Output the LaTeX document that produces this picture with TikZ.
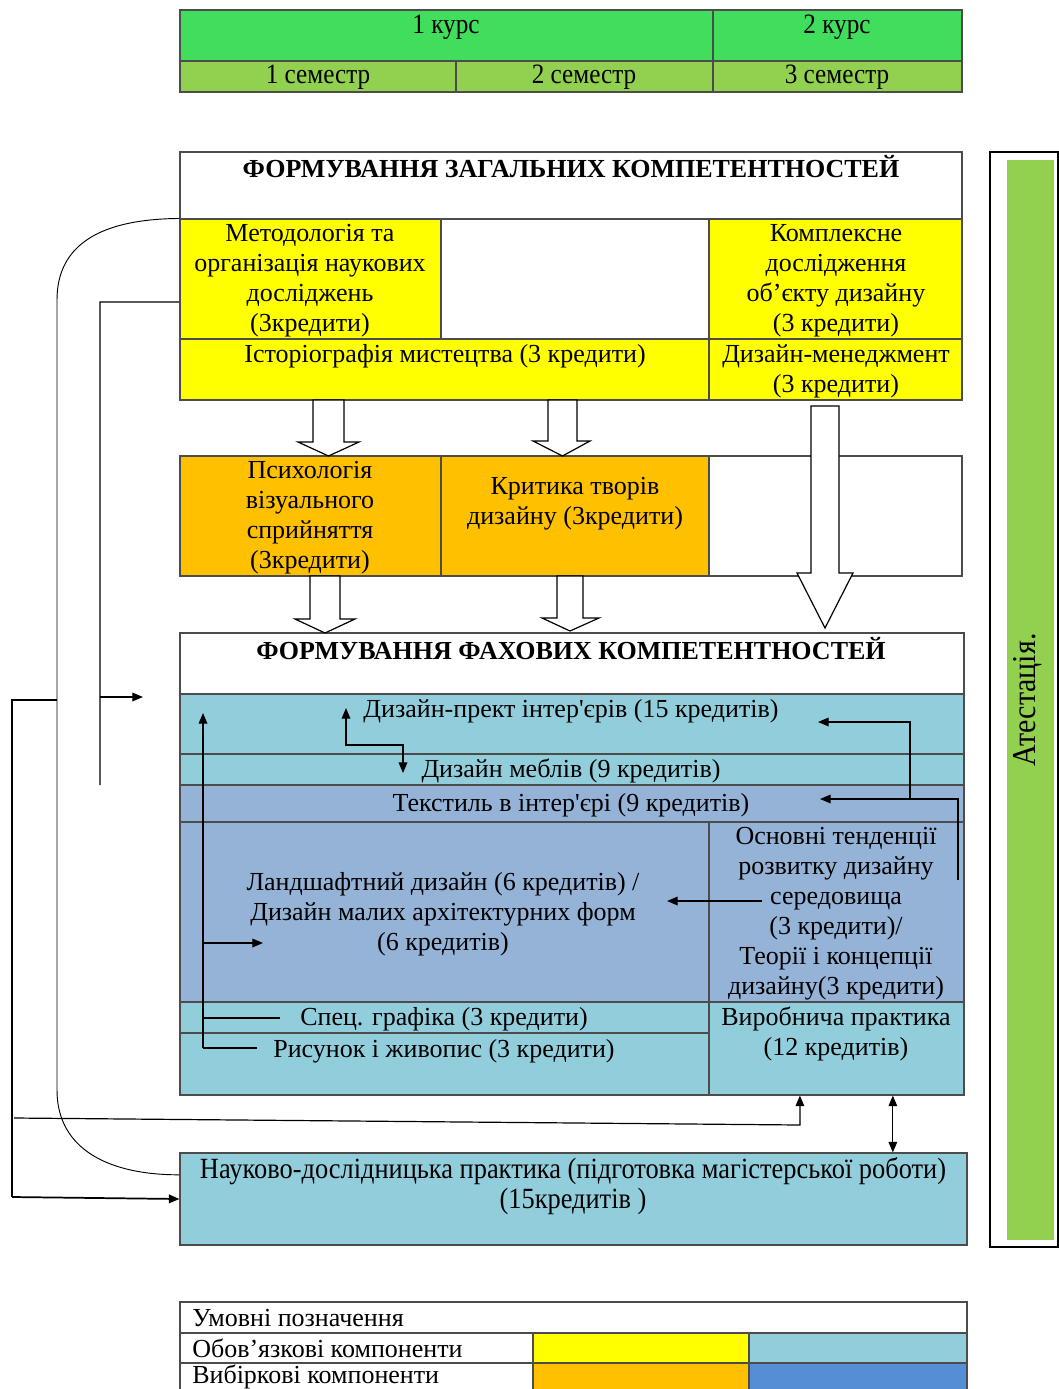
\documentclass[tikz,border=0pt]{standalone}
\usepackage{fontspec}
\setmainfont{Liberation Serif}
\newfontfamily\condfont[FakeStretch=0.9]{Liberation Serif}
\usetikzlibrary{fit,arrows.meta,calc}
\definecolor{grA}{RGB}{64,222,92}
\definecolor{grB}{RGB}{146,208,80}
\definecolor{yel}{RGB}{255,255,0}
\definecolor{orn}{RGB}{255,192,0}
\definecolor{lbl}{RGB}{146,205,220}
\definecolor{mbl}{RGB}{149,179,215}
\definecolor{dbl}{RGB}{85,142,213}
\newcommand{\apo}{\textquotesingle}
\begin{document}
\begin{tikzpicture}[x=0.75pt,y=-0.75pt,
  cell/.style={draw=black!70, line width=0.8pt, inner sep=0pt},
  txt/.style={font=\fontsize{19.5}{22.5}\selectfont, align=center, inner sep=0pt},
  ctxt/.style={font=\condfont\fontsize{21}{22.5}\selectfont, align=center, inner sep=0pt},
  btxt/.style={font=\condfont\fontsize{22}{22.5}\selectfont, align=center, inner sep=0pt},
  ltxt/.style={font=\fontsize{19.5}{22.5}\selectfont, inner sep=0pt, anchor=west},
  head/.style={font=\fontsize{19.5}{22}\selectfont\bfseries, inner sep=0pt},
  conn/.style={line width=0.9pt},
  tip/.style={-{Triangle[length=8pt,width=6.5pt]}},
  hollow/.style={draw=black, line width=0.9pt, fill=white}]
\useasboundingbox (0,0) rectangle (1059,1389);

% ---------- top table ----------
\node[cell, fill=grA, fit={(180,10)(713,61)}] (k1) {};
\node[cell, fill=grA, fit={(713,10)(962,61)}] (k2) {};
\node[cell, fill=grB, fit={(180,61)(456,92)}] (s1) {};
\node[cell, fill=grB, fit={(456,61)(713,92)}] (s2) {};
\node[cell, fill=grB, fit={(713,61)(962,92)}] (s3) {};
\node[ctxt] (tk1) at (446,27) {1 курс};
\node[ctxt] (tk2) at (837,27) {2 курс};
\node[ctxt] (ts1) at (318,77) {1 семестр};
\node[ctxt] (ts2) at (584,77) {2 семестр};
\node[ctxt] (ts3) at (837,77) {3 семестр};

% ---------- general competences ----------
\node[cell, fill=white, fit={(180,152)(962,219)}] (g0) {};
\node[head] (tg0) at (571,167) {ФОРМУВАННЯ ЗАГАЛЬНИХ КОМПЕТЕНТНОСТЕЙ};
\node[cell, fill=yel, fit={(180,219)(441,339)}] (met) {};
\node[cell, fill=white, fit={(441,219)(709,339)}] (gempty) {};
\node[cell, fill=yel, fit={(709,219)(962,339)}] (kom) {};
\node[cell, fill=yel, fit={(180,339)(709,400)}] (ist) {};
\node[cell, fill=yel, fit={(709,339)(962,400)}] (dm) {};
\node[txt] (tmet) at (310,281) {Методологія та\\організація наукових\\досліджень\\(3кредити)};
\node[txt] (tkom) at (836,281) {Комплексне\\дослідження\\об’єкту дизайну\\(3 кредити)};
\node[txt] (tist) at (445,356) {Історіографія мистецтва (3 кредити)};
\node[txt] (tdm) at (836,371) {Дизайн-менеджмент\\(3 кредити)};

% ---------- elective row ----------
\node[cell, fill=orn, fit={(180,456)(441,576)}] (psy) {};
\node[cell, fill=orn, fit={(441,456)(709,576)}] (kry) {};
\node[cell, fill=white, fit={(709,456)(962,576)}] (oempty) {};
\node[txt] (tpsy) at (310,518) {Психологія\\візуального\\сприйняття\\(3кредити)};
\node[txt] (tkry) at (575,504) {Критика творів\\дизайну (3кредити)};

% ---------- professional competences ----------
\node[cell, fill=white, fit={(180,633)(964,694)}] (f0) {};
\node[head] (tf0) at (571,649) {ФОРМУВАННЯ ФАХОВИХ КОМПЕТЕНТНОСТЕЙ};
\node[cell, fill=lbl, fit={(180,694)(964,754)}] (dpi) {};
\node[cell, fill=lbl, fit={(180,754)(964,785)}] (dmb) {};
\node[cell, fill=mbl, fit={(180,785)(964,822)}] (tex) {};
\node[cell, fill=mbl, fit={(180,822)(709,1002)}] (lan) {};
\node[cell, fill=mbl, fit={(709,822)(964,1002)}] (osn) {};
\node[cell, fill=lbl, fit={(180,1002)(709,1033)}] (spg) {};
\node[cell, fill=lbl, fit={(180,1033)(709,1095)}] (ris) {};
\node[cell, fill=lbl, fit={(709,1002)(964,1095)}] (vyr) {};
\node[txt] (tdpi) at (571,711) {Дизайн-прект інтер\apo єрів (15 кредитів)};
\node[txt] (tdmb) at (571,771) {Дизайн меблів (9 кредитів)};
\node[txt] (ttex) at (571,805) {Текстиль в інтер\apo єрі (9 кредитів)};
\node[txt] (tlan) at (443,914) {Ландшафтний дизайн (6 кредитів) /\\Дизайн малих архітектурних форм\\(6 кредитів)};
\node[txt] (tosn) at (836,914) {Основні тенденції\\розвитку дизайну\\середовища\\(3 кредити)/\\Теорії і концепції\\дизайну(3 кредити)};
\node[txt] (tspg) at (444,1019) {Спец. графіка (3 кредити)};
\node[txt] (tris) at (444,1051) {Рисунок і живопис (3 кредити)};
\node[txt] (tvyr) at (836,1034) {Виробнича практика\\(12 кредитів)};

% ---------- research practice ----------
\node[cell, fill=lbl, fit={(180,1153)(967,1245)}] (nauk) {};
\node[btxt] (tnauk) at (573,1186) {Науково-дослідницька практика (підготовка магістерської роботи)\\(15кредитів )};

% ---------- attestation ----------
\node[draw=black, line width=0.9pt, inner sep=0pt, fill=white, fit={(990,152)(1058,1247)}] (att0) {};
\node[fill=grB, inner sep=0pt, fit={(1007,160)(1054,1240)}] (att) {};
\node[ctxt, font=\condfont\fontsize{25}{26}\selectfont, rotate=90] (tatt) at (1028,700) {Атестація.};

% ---------- legend ----------
\node[cell, fill=white, fit={(180,1302)(967,1333)}] (lg0) {};
\node[cell, fill=white, fit={(180,1333)(533,1363)}] (lg1) {};
\node[cell, fill=yel, fit={(533,1333)(749,1363)}] (lg1a) {};
\node[cell, fill=lbl, fit={(749,1333)(967,1363)}] (lg1b) {};
\node[cell, fill=white, fit={(180,1363)(533,1396)}] (lg2) {};
\node[cell, fill=orn, fit={(533,1363)(749,1396)}] (lg2a) {};
\node[cell, fill=dbl, fit={(749,1363)(967,1396)}] (lg2b) {};
\node[ltxt] (tlg0) at (192,1318) {Умовні позначення};
\node[ltxt] (tlg1) at (192,1348) {Обов’язкові компоненти};
\node[ltxt] (tlg2) at (192,1377) {Вибіркові компоненти};

% ---------- hollow block arrows ----------
\draw[hollow] (313,400) -- (344,400) -- (344,442) -- (359,442) -- (328.5,456) -- (298,442) -- (313,442) -- cycle;
\draw[hollow] (548,400) -- (577,400) -- (577,441) -- (590,441) -- (562.5,456) -- (533,441) -- (548,441) -- cycle;
\draw[hollow] (811,406) -- (839,406) -- (839,573) -- (853,573) -- (825,628) -- (797,573) -- (811,573) -- cycle;
\draw[hollow] (310,576) -- (340,576) -- (340,619) -- (355,619) -- (325,633) -- (295,619) -- (310,619) -- cycle;
\draw[hollow] (557,576) -- (583,576) -- (583,618) -- (599,618) -- (570,631) -- (542,618) -- (557,618) -- cycle;

% ---------- connectors ----------
\coordinate (nw) at (met.north west);
\coordinate (nkA) at ($(nauk.north west)!0.24!(nauk.south west)$);
\draw[conn, line width=0.7pt] (nw) .. controls (100,219) and (57,245) .. (57,300)
   -- (57,1090) .. controls (57,1150) and (110,1175) .. (nkA);

\coordinate (mL) at ($(met.north west)!0.69!(met.south west)$);
\draw[conn] (mL) -- (100,302) -- (100,785);
\coordinate (br1) at (100,697);
\coordinate (br1e) at (143,697);
\draw[conn, tip] (br1) -- (br1e);

\coordinate (lc1) at (57,700);
\coordinate (nkB) at (nauk.west);
\draw[conn] (lc1) -- (12,700) -- (12,1197);
\draw[conn, tip, line width=1.3pt] (12,1197) -- (nkB);
\coordinate (vb) at ($(vyr.south west)!0.357!(vyr.south east)$);
\draw[conn, tip] (14,1118) -- (800,1125) -- (vb);

\coordinate (vb2) at ($(vyr.south west)!0.72!(vyr.south east)$);
\coordinate (nt2) at (vb2 |- nauk.north);
\draw[conn, {Triangle[length=8pt,width=6.5pt]}-{Triangle[length=8pt,width=6.5pt]}] (vb2) -- (nt2);

\coordinate (os1) at (762,901);
\coordinate (la1) at (667,901);
\draw[conn, tip] (os1) -- (la1);

\coordinate (r1) at (958,880);
\coordinate (r1e) at (820,799);
\draw[conn, tip] (r1) -- (958,799) -- (r1e);
\coordinate (r2) at (910,799);
\coordinate (r2e) at (818,722);
\draw[conn, tip] (r2) -- (910,722) -- (r2e);

\coordinate (v0) at (203,1048);
\coordinate (v0t) at (203,713);
\draw[conn, tip] (v0) -- (v0t);
\draw[conn] (v0) -- (257,1048);
\draw[conn] (203,1018) -- (280,1018);
\coordinate (v3e) at (263,943);
\draw[conn, tip] (203,943) -- (v3e);

\coordinate (dd1) at (346,708);
\coordinate (dd2) at (403,773);
\draw[conn, {Triangle[length=8pt,width=6.5pt]}-{Triangle[length=8pt,width=6.5pt]}] (dd1) -- (346,745) -- (403,745) -- (dd2);
\end{tikzpicture}
\end{document}
